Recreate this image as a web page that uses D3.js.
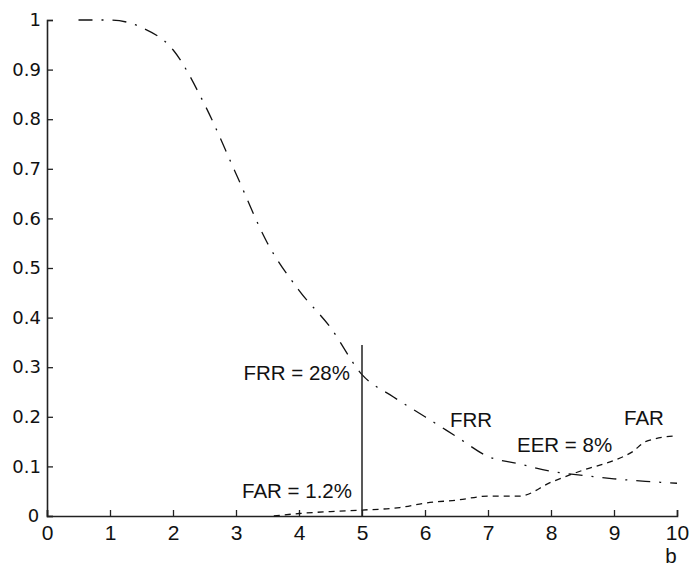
<!DOCTYPE html>
<html lang="en">
<head>
<meta charset="UTF-8" />
<script src="https://d3js.org/d3.v7.min.js"></script>
<style>
	body { margin: 0; background: #fff; }
	text { font-family: "Liberation Sans", Arial, sans-serif; fill: #111; }
	.note { font-size: 20.5px; }
</style>
</head>
<body>
<script>
	// FRR curve (dash-dot)
	var frrX = [0.5, 1, 1.5, 2, 2.5, 3, 3.5, 4, 4.5, 5, 5.5, 6, 6.5, 7, 7.5, 8, 8.5, 9, 9.5, 10];
	var frrY = [1.0, 1.0, 0.985, 0.94, 0.83, 0.69, 0.55, 0.455, 0.38, 0.285, 0.24, 0.2, 0.16, 0.12, 0.105, 0.09, 0.082, 0.075, 0.07, 0.066];
	// FAR curve (dashed)
	var farX = [3.6, 4, 4.5, 5, 5.6, 6, 6.5, 7, 7.5, 8, 8.5, 9, 9.3, 9.5, 10];
	var farY = [0, 0.005, 0.009, 0.012, 0.017, 0.026, 0.032, 0.04, 0.04, 0.068, 0.092, 0.112, 0.13, 0.15, 0.162];
	var xTicks = [0, 1, 2, 3, 4, 5, 6, 7, 8, 9, 10];
	var yTicks = [0, 0.1, 0.2, 0.3, 0.4, 0.5, 0.6, 0.7, 0.8, 0.9, 1];

	var width = 692, height = 566;
	var svg = d3.select("body").append("svg")
		.attr("width", width)
		.attr("height", height);

	var x = d3.scaleLinear().domain([0, 10]).range([47, 677]);
	var y = d3.scaleLinear().domain([0, 1]).range([516, 20]);

	// axes, ticks pointing inward
	var xAxis = svg.append("g").attr("transform", "translate(0," + y(0) + ")")
		.call(d3.axisBottom(x).tickValues(xTicks).tickSize(-6).tickPadding(9).tickFormat(d3.format("d")));
	var yAxis = svg.append("g").attr("transform", "translate(" + x(0) + ",0)")
		.call(d3.axisLeft(y).tickValues(yTicks).tickSize(-6).tickPadding(6).tickFormat(function(d) { return d === 0 || d === 1 ? d : d.toFixed(1); }));
	svg.selectAll(".domain").attr("stroke", "#222").attr("stroke-width", 1.6);
	svg.selectAll(".tick line").attr("stroke", "#222").attr("stroke-width", 1.3);
	xAxis.selectAll(".tick text").style("font-size", "21px");
	yAxis.selectAll(".tick text").style("font-size", "18px").style("font-family", "'DejaVu Sans', sans-serif");
	yAxis.selectAll(".tick text").filter(function(d) { return d === 0; }).attr("dx", "-0.1em");

	svg.append("text").attr("class", "note").attr("x", 671).attr("y", 563)
		.attr("text-anchor", "middle").text("b");

	var line = d3.line().curve(d3.curveMonotoneX)
		.x(function(d) { return x(d[0]); })
		.y(function(d) { return y(d[1]); });

	svg.append("path")
		.datum(d3.zip(frrX, frrY))
		.attr("d", line)
		.attr("fill", "none")
		.attr("stroke", "#111")
		.attr("stroke-width", 1.3)
		.attr("stroke-dasharray", "14,9,2,9");

	svg.append("path")
		.datum(d3.zip(farX, farY))
		.attr("d", line)
		.attr("fill", "none")
		.attr("stroke", "#111")
		.attr("stroke-width", 1.3)
		.attr("stroke-dasharray", "6,5");

	// threshold marker at 5
	svg.append("line")
		.attr("x1", x(5)).attr("x2", x(5))
		.attr("y1", y(0.345)).attr("y2", y(0))
		.attr("stroke", "#222").attr("stroke-width", 1.5);

	var notes = [
		{ t: "FRR = 28%", x: 350, y: 380, a: "end" },
		{ t: "FAR = 1.2%", x: 352, y: 498, a: "end" },
		{ t: "FRR", x: 450, y: 427, a: "start" },
		{ t: "EER = 8%", x: 517, y: 452, a: "start" },
		{ t: "FAR", x: 624, y: 425, a: "start" }
	];
	svg.selectAll("text.lbl").data(notes).enter().append("text")
		.attr("class", "note lbl")
		.attr("x", function(d) { return d.x; })
		.attr("y", function(d) { return d.y; })
		.attr("text-anchor", function(d) { return d.a; })
		.text(function(d) { return d.t; });
</script>
</body>
</html>
